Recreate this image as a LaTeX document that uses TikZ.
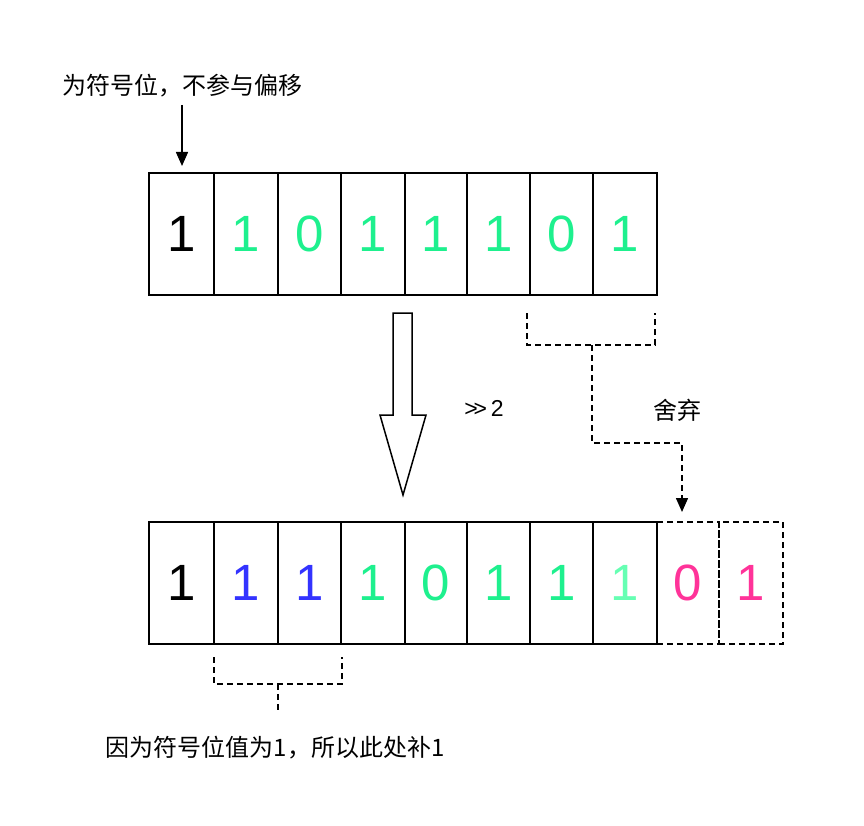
\documentclass[tikz,border=0pt]{standalone}
\usepackage{fontspec}
\setmainfont{Liberation Sans}
\newfontfamily\cjk{Noto Sans CJK SC}
\usetikzlibrary{arrows.meta}
\definecolor{cgreen}{HTML}{1EF08E}
\definecolor{clight}{HTML}{66FFB3}
\definecolor{cblue}{HTML}{3333FF}
\definecolor{cpink}{HTML}{FF3399}
\tikzset{
  cell/.style={draw, line width=1.6pt, minimum height=122pt, inner sep=0pt, font=\fontsize{51}{51}\selectfont},
  dropcell/.style={cell, dash pattern=on 6pt off 4pt},
  lbl/.style={font=\cjk\fontsize{24}{28}\selectfont, inner sep=0pt},
  dline/.style={line width=1.5pt, dash pattern=on 6pt off 4pt},
  tip/.style={-{Triangle[width=12pt,length=14pt]}}
}
\begin{document}
\begin{tikzpicture}[x=1pt,y=-1pt]
\useasboundingbox (0,0) rectangle (864,826);
% top row
\foreach \i/\l/\r/\d/\c in {1/149/214/1/black,2/214/278/1/cgreen,3/278/341/0/cgreen,4/341/405/1/cgreen,5/405/467/1/cgreen,6/467/530/1/cgreen,7/530/593/0/cgreen,8/593/657/1/cgreen}{
  \node[cell, text=\c, minimum width={(\r-\l)*1pt}] (t\i) at ({(\l+\r)/2},234) {\d};
}
% bottom row
\foreach \i/\l/\r/\d/\c in {1/149/214/1/black,2/214/278/1/cblue,3/278/341/1/cblue,4/341/405/1/cgreen,5/405/467/0/cgreen,6/467/530/1/cgreen,7/530/593/1/cgreen,8/593/657/1/clight}{
  \node[cell, text=\c, minimum width={(\r-\l)*1pt}] (b\i) at ({(\l+\r)/2},583) {\d};
}
\node[dropcell, text=cpink, minimum width=62pt] (d1) at (688,583) {0};
\node[dropcell, text=cpink, minimum width=64pt] (d2) at (751,583) {1};
% top label and arrow
\node[lbl] (sign) at (182,86) {为符号位，不参与偏移};
\draw[line width=1.5pt, tip] (sign.south |- 0,105) -- (sign.south |- 0,166);
% hollow shift arrow
\draw[line width=1.5pt, line join=miter] (393,313) -- (412,313) -- (412,415) -- (426,415) -- (403,495) -- (380,415) -- (393,415) -- cycle;
\node[font=\fontsize{23}{26}\selectfont, inner sep=0pt] (shift) at (484,408) {{>}\kern-4pt{>}\,2};
% discard bracket
\coordinate (bl) at (527,313);
\coordinate (br) at (655,313);
\coordinate (bm) at (592,345);
\draw[dline] (bl) -- (527,345) -- (655,345) -- (br);
\draw[dline, tip] (bm) -- (592,443) -- (682,443) -- (682,512);
\node[lbl] (discard) at (677,410) {舍弃};
% fill bracket
\coordinate (fl) at (214,657);
\coordinate (fr) at (342,657);
\coordinate (fm) at (278,684);
\coordinate (fe) at (278,711);
\draw[dline] (fl) -- (214,684) -- (342,684) -- (fr);
\draw[dline] (fm) -- (fe);
\node[lbl] (fill) at (275,748) {因为符号位值为1，所以此处补1};
\end{tikzpicture}
\end{document}
